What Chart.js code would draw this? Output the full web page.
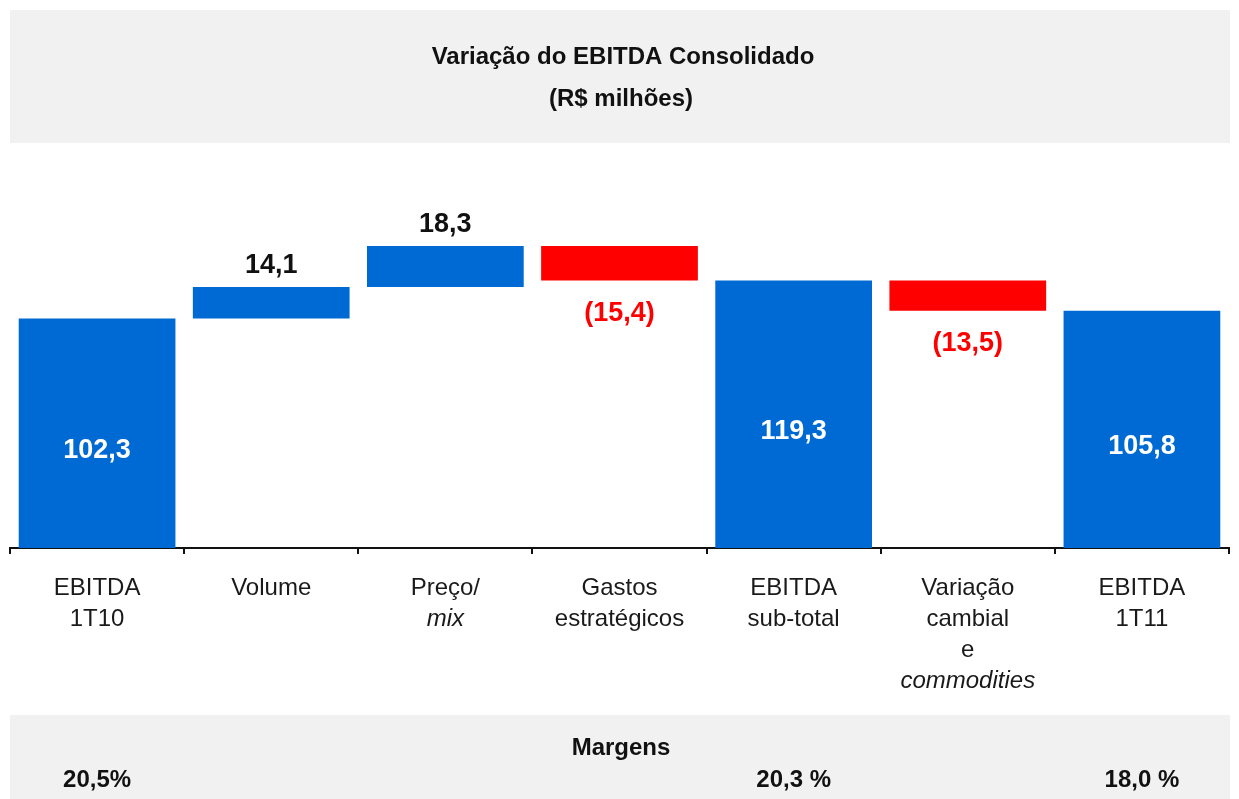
<!DOCTYPE html>
<html>
<head>
<meta charset="utf-8">
<script src="https://cdn.jsdelivr.net/npm/chart.js@4"></script>
<style>
html, body { margin: 0; padding: 0; background: #fff; }
#wrap { width: 1239px; height: 799px; position: relative; }
</style>
</head>
<body>
<div id="wrap"><canvas id="chart"></canvas></div>
<script>
// Data
const categories = [
    ['EBITDA', '1T10'],
    ['Volume'],
    ['Preço/', 'mix'],
    ['Gastos', 'estratégicos'],
    ['EBITDA', 'sub-total'],
    ['Variação', 'cambial', 'e', 'commodities'],
    ['EBITDA', '1T11']
];
const italicLines = ['mix', 'commodities'];
const changes = [102.3, 14.1, 18.3, -15.4, 119.3, -13.5, 105.8];
const isTotal = [true, false, false, false, true, false, true];
const margins = ['20,5%', '', '', '', '20,3 %', '', '18,0 %'];
const titleLines = ['Variação do EBITDA Consolidado', '(R$ milhões)'];
const footerTitle = 'Margens';

const BLUE = '#006ad4';
const RED = '#ff0000';
const FONT = "'Liberation Sans', Arial, sans-serif";

// waterfall: totals start at zero, changes float on the running total
let running = 0;
const floating = changes.map((v, i) => {
    if (isTotal[i]) { running = v; return [0, v]; }
    const start = running;
    running += v;
    return [start, running];
});
const barColors = changes.map((v, i) => (isTotal[i] || v >= 0) ? BLUE : RED);

function fmt(v) {
    const s = Math.abs(v).toFixed(1).replace('.', ',');
    return v < 0 ? '(' + s + ')' : s;
}

const decorPlugin = {
    id: 'decor',
    beforeDraw(chart) {
        const ctx = chart.ctx;
        ctx.save();
        ctx.fillStyle = '#fff';
        ctx.fillRect(0, 0, chart.width, chart.height);
        // header band
        ctx.fillStyle = '#f1f1f1';
        ctx.fillRect(10, 10, 1220, 133);
        ctx.fillStyle = '#111';
        ctx.textAlign = 'center';
        ctx.textBaseline = 'middle';
        ctx.font = 'bold 24px ' + FONT;
        ctx.fillText(titleLines[0], 623, 57);
        ctx.fillText(titleLines[1], 621, 99);
        // footer band
        ctx.fillStyle = '#f1f1f1';
        ctx.fillRect(10, 715, 1220, 84);
        ctx.fillStyle = '#111';
        ctx.fillText(footerTitle, 621, 748);
        const x = chart.scales.x;
        margins.forEach((m, i) => {
            if (m) ctx.fillText(m, x.getPixelForValue(i), 780);
        });
        ctx.restore();
    },
    afterDatasetsDraw(chart) {
        const ctx = chart.ctx;
        const meta = chart.getDatasetMeta(0);
        const x = chart.scales.x;
        ctx.save();
        ctx.textAlign = 'center';
        ctx.textBaseline = 'middle';
        meta.data.forEach((bar, i) => {
            const v = changes[i];
            ctx.font = 'bold 27px ' + FONT;
            const top = Math.min(bar.y, bar.base);
            const bottom = Math.max(bar.y, bar.base);
            if (isTotal[i]) {
                ctx.fillStyle = '#fff';
                ctx.fillText(fmt(v), bar.x, (top + bottom) / 2 + 17);
            } else if (v >= 0) {
                ctx.fillStyle = '#111';
                ctx.fillText(fmt(v), bar.x, top - 21);
            } else {
                ctx.fillStyle = RED;
                ctx.fillText(fmt(v), bar.x, bottom + 33);
            }
        });
        // category labels
        categories.forEach((lines, i) => {
            lines.forEach((line, j) => {
                const it = italicLines.includes(line);
                ctx.font = (it ? 'italic ' : '') + '24px ' + FONT;
                ctx.fillStyle = '#1a1a1a';
                ctx.fillText(line, x.getPixelForValue(i), 588 + j * 31);
            });
        });
        ctx.restore();
    }
};

new Chart(document.getElementById('chart'), {
    type: 'bar',
    data: {
        labels: categories.map(c => c.join(' ')),
        datasets: [{
            data: floating,
            backgroundColor: barColors,
            borderWidth: 0,
            barPercentage: 0.9,
            categoryPercentage: 1
        }]
    },
    options: {
        responsive: true,
        maintainAspectRatio: false,
        animation: false,
        layout: { padding: { top: 160, left: 10, right: 10, bottom: 245 } },
        plugins: {
            legend: { display: false },
            tooltip: { enabled: false },
            title: { display: false }
        },
        scales: {
            x: {
                grid: {
                    offset: true,
                    drawOnChartArea: false,
                    drawTicks: true,
                    tickLength: 6,
                    color: '#111',
                    lineWidth: 2
                },
                border: { display: true, color: '#111', width: 2 },
                ticks: { display: false }
            },
            y: {
                display: false,
                min: 0,
                max: 173
            }
        }
    },
    plugins: [decorPlugin]
});
</script>
</body>
</html>
